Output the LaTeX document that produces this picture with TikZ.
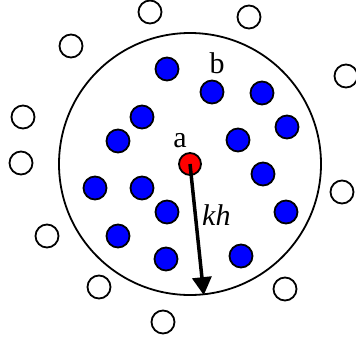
\documentclass[tikz,border=0pt]{standalone}
\usepackage{fontspec}
\setmainfont{Liberation Serif}
\usetikzlibrary{arrows.meta}
\definecolor{dotBlue}{HTML}{0000FF}
\definecolor{dotRed}{HTML}{FF0000}
\tikzset{
  inner dot/.style={circle, draw=black, line width=1.8pt, fill=dotBlue,
    minimum size=23pt, inner sep=0pt},
  outer dot/.style={circle, draw=black, line width=1.8pt, fill=white,
    minimum size=23pt, inner sep=0pt},
  centre dot/.style={circle, draw=black, line width=1.8pt, fill=dotRed,
    minimum size=22pt, inner sep=0pt},
  radius arrow/.style={-{Triangle[length=18pt,width=19pt]}, line width=3.5pt},
  dot label/.style={font=\fontsize{30}{32}\selectfont, anchor=base, inner sep=0pt}
}
\begin{document}
\begin{tikzpicture}[x=1pt,y=-1pt]
  \useasboundingbox (0,0) rectangle (356,341);
  % neighbourhood of a
  \node[circle, draw=black, line width=1.8pt, minimum size=262pt, inner sep=0pt]
    (region) at (190,164) {};
  % points inside the neighbourhood
  \foreach \x/\y [count=\i] in {167/69, 212/92, 262/93, 287/127, 142/117,
      118/141, 238/140, 263/174, 95/188, 142/188, 167/212, 286/212,
      118/236, 166/259, 241/256}
    \node[inner dot] (in\i) at (\x,\y) {};
  % points outside the neighbourhood
  \foreach \x/\y [count=\i] in {150/12, 71/46, 249/17, 346/76, 23/117,
      21/163, 342/192, 47/236, 99/287, 163/322, 285/289}
    \node[outer dot] (out\i) at (\x,\y) {};
  % centre point and radius
  \node[centre dot] (a) at (190,164) {};
  \draw[radius arrow] (a.center) -- (region.-84.4);
  \node[dot label] (alabel) at (180,147) {a};
  \node[dot label] (blabel) at (217,73) {b};
  \node[dot label, anchor=base west] (kh) at (202,225) {\textit{kh}};
\end{tikzpicture}
\end{document}
